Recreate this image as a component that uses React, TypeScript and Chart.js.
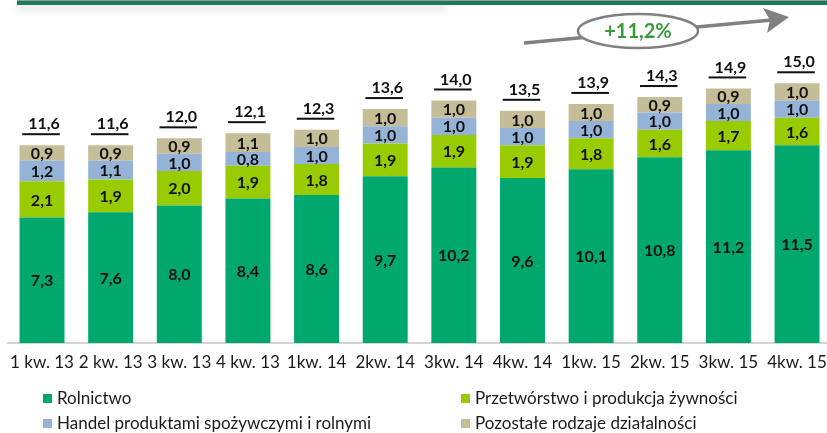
import React, { useEffect, useRef } from "react";
import { Chart, registerables } from "chart.js";

Chart.register(...registerables);

const quarters = [
  "1 kw. 13", "2 kw. 13", "3 kw. 13", "4 kw. 13",
  "1kw. 14", "2kw. 14", "3kw. 14", "4kw. 14",
  "1kw. 15", "2kw. 15", "3kw. 15", "4kw. 15",
];
const rolnictwo = [7.3, 7.6, 8.0, 8.4, 8.6, 9.7, 10.2, 9.6, 10.1, 10.8, 11.2, 11.5];
const przetworstwo = [2.1, 1.9, 2.0, 1.9, 1.8, 1.9, 1.9, 1.9, 1.8, 1.6, 1.7, 1.6];
const handel = [1.2, 1.1, 1.0, 0.8, 1.0, 1.0, 1.0, 1.0, 1.0, 1.0, 1.0, 1.0];
const pozostale = [0.9, 0.9, 0.9, 1.1, 1.0, 1.0, 1.0, 1.0, 1.0, 0.9, 0.9, 1.0];
const totals = [11.6, 11.6, 12.0, 12.1, 12.3, 13.6, 14.0, 13.5, 13.9, 14.3, 14.9, 15.0];
const growthLabel = "+11,2%";

const seriesNames = [
  "Rolnictwo",
  "Przetwórstwo i produkcja żywności",
  "Handel produktami spożywczymi i rolnymi",
  "Pozostałe rodzaje działalności",
];
const seriesColors = ["#00A86E", "#99CC00", "#95B3D7", "#C4BD97"];

const FONT = "Lato, 'Liberation Sans', sans-serif";
const fmt = (v: number) => v.toFixed(1).replace(".", ",");

const decorPlugin = {
  id: "decor",
  afterDatasetsDraw(chart: any) {
    const ctx = chart.ctx as CanvasRenderingContext2D;
    ctx.save();
    // segment values
    ctx.font = `bold 16px ${FONT}`;
    ctx.fillStyle = "#111";
    ctx.textAlign = "center";
    ctx.textBaseline = "middle";
    chart.data.datasets.forEach((ds: any, di: number) => {
      const meta = chart.getDatasetMeta(di);
      meta.data.forEach((bar: any, i: number) => {
        const p = bar.getProps(["x", "y", "base"], true);
        ctx.fillText(fmt(ds.data[i]), p.x, (p.y + p.base) / 2 + 1);
      });
    });
    // underlined totals above each stack
    const topMeta = chart.getDatasetMeta(chart.data.datasets.length - 1);
    ctx.font = `bold 16px ${FONT}`;
    topMeta.data.forEach((bar: any, i: number) => {
      const p = bar.getProps(["x", "y"], true);
      const txt = fmt(totals[i]);
      const w = ctx.measureText(txt).width;
      const cy = p.y - 21;
      ctx.fillText(txt, p.x + 2, cy);
      ctx.fillRect(p.x + 2 - w / 2 - 6, cy + 9, w + 6, 2);
    });
    ctx.restore();
  },
  afterDraw(chart: any) {
    const ctx = chart.ctx as CanvasRenderingContext2D;
    ctx.save();
    // header band
    ctx.fillStyle = "#9a9a9a";
    ctx.fillRect(17, 0, 820, 1);
    ctx.save();
    ctx.shadowColor = "rgba(0,0,0,0.18)";
    ctx.shadowBlur = 8;
    ctx.shadowOffsetY = 4;
    ctx.fillStyle = "#1B7B58";
    ctx.fillRect(17, 1, 430, 4);
    ctx.restore();
    ctx.fillStyle = "#1B7B58";
    ctx.fillRect(17, 1, 820, 4);

    // growth arrow
    ctx.strokeStyle = "#808080";
    ctx.fillStyle = "#808080";
    ctx.lineWidth = 3.5;
    ctx.beginPath();
    ctx.moveTo(524, 43);
    ctx.lineTo(772, 20);
    ctx.stroke();
    ctx.beginPath();
    ctx.moveTo(789, 17);
    ctx.lineTo(763, 8);
    ctx.lineTo(770, 20);
    ctx.lineTo(767, 33);
    ctx.closePath();
    ctx.fill();

    ctx.beginPath();
    ctx.ellipse(638, 31, 60, 17, 0, 0, Math.PI * 2);
    ctx.fillStyle = "#fff";
    ctx.fill();
    ctx.lineWidth = 2.5;
    ctx.stroke();
    ctx.fillStyle = "#3A9B3C";
    ctx.font = `bold 20px ${FONT}`;
    ctx.textAlign = "center";
    ctx.textBaseline = "middle";
    ctx.fillText(growthLabel, 638, 32);

    // legend in two columns
    const pos = [
      [43, 399],
      [461, 399],
      [43, 424],
      [461, 424],
    ];
    ctx.font = `17px ${FONT}`;
    ctx.textAlign = "left";
    seriesNames.forEach((name, i) => {
      const [x, y] = pos[i];
      ctx.fillStyle = seriesColors[i];
      ctx.fillRect(x, y - 5, 9, 9);
      ctx.fillStyle = "#1a1a1a";
      ctx.fillText(name, x + 14, y);
    });
    ctx.restore();
  },
};

export default function App() {
  const ref = useRef<HTMLCanvasElement | null>(null);
  useEffect(() => {
    if (!ref.current) return;
    const series = [rolnictwo, przetworstwo, handel, pozostale];
    const chart = new Chart(ref.current, {
      type: "bar",
      data: {
        labels: quarters,
        datasets: series.map((d, i) => ({
          label: seriesNames[i],
          data: d,
          backgroundColor: seriesColors[i],
          borderWidth: 0,
          barPercentage: 0.655,
          categoryPercentage: 1,
        })),
      },
      options: {
        animation: false,
        responsive: false,
        devicePixelRatio: 1,
        layout: { padding: { left: 7.7, right: 4.2, top: 16.2, bottom: 0 } },
        plugins: { legend: { display: false }, tooltip: { enabled: false } },
        scales: {
          x: {
            stacked: true,
            grid: { display: false, drawTicks: false },
            border: { display: true, color: "#d4d4d4", width: 2 },
            ticks: {
              color: "#1a1a1a",
              font: { family: FONT, size: 17 },
              padding: 9,
              maxRotation: 0,
              autoSkip: false,
            },
            afterFit: (scale: any) => {
              scale.height = 90;
            },
          },
          y: {
            stacked: true,
            display: false,
            min: 0,
            max: 19,
          },
        },
      },
      plugins: [decorPlugin],
    });
    return () => chart.destroy();
  }, []);
  return (
    <div
      style={{
        position: "fixed",
        left: 0,
        top: 0,
        width: 827,
        height: 433,
        overflow: "hidden",
        background: "#fff",
      }}
    >
      <canvas ref={ref} width={836} height={433} style={{ display: "block" }} />
    </div>
  );
}
